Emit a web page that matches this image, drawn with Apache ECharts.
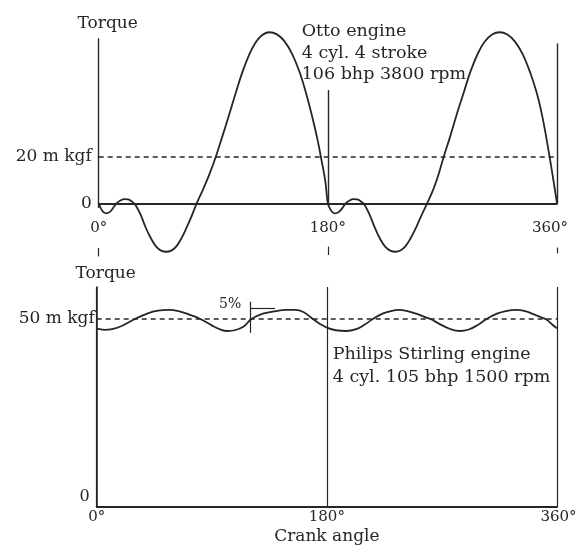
<!DOCTYPE html>
<html>
<head>
<meta charset="utf-8">
<script src="https://cdn.jsdelivr.net/npm/echarts@6/dist/echarts.min.js"></script>
<style>
  html, body { margin: 0; padding: 0; background: #ffffff; }
  #chart { width: 577px; height: 551px; }
</style>
</head>
<body>
<div id="chart"></div>
<script>
// ---- data ----
// Otto engine torque (m kgf) vs crank angle (deg)
const topAngles = [0, 2, 4, 6, 8, 10, 12, 14, 17, 20, 23, 26, 29, 33, 37, 41, 45, 49, 53, 57, 61, 65, 69, 73, 77, 82, 87, 92, 97, 103, 108, 113, 118, 123, 128, 134, 140, 146, 152, 158, 163, 168, 172, 175, 178, 180,
  182, 184, 186, 188, 190, 192, 194, 197, 200, 203, 206, 209, 213, 217, 221, 225, 229, 233, 237, 241, 245, 249, 253, 258, 263, 267, 271, 276, 282, 287, 292, 298, 303, 309, 315, 321, 327, 333, 339, 344, 348, 351, 354, 357, 360];
const topTorque = [0, -2.5, -3.9, -4.3, -4.0, -3.0, -1.5, 0, 1.2, 1.8, 1.7, 0.8, -0.8, -5, -10.5, -15, -18.5, -20.3, -20.8, -20.3, -18.5, -15, -10.5, -5.5, 0, 6, 12.5, 20, 28.5, 39, 48, 56.5, 63.5, 68.8, 72, 73.4, 72.5, 69.5, 64, 56, 47, 36.5, 27, 18.5, 9.5, 0,
  -2.6, -4.0, -4.3, -4.0, -3.0, -1.6, 0, 1.2, 1.8, 1.7, 0.8, -0.8, -5.2, -10.6, -15.2, -18.6, -20.3, -20.8, -20.3, -18.4, -15, -10.8, -5.8, 0, 6.2, 12.5, 20, 28.5, 39.5, 48, 56.5, 64.5, 69.2, 72.4, 73.4, 72.4, 69.4, 64, 56, 47.5, 38.5, 30, 20.5, 10.5, 0];

// Philips Stirling engine torque (m kgf) vs crank angle (deg)
const bottomAngles = [0, 6, 12, 20, 30, 40, 48, 56, 64, 72, 81, 90, 96, 102, 108, 115, 121, 130, 140, 148, 155, 162, 169, 175, 180,
  187, 195, 203, 210, 216, 224, 230, 236, 243, 250, 256, 261, 268, 276, 284, 291, 298, 305, 313, 320, 328, 335, 342, 348, 352, 356, 360];
const bottomTorque = [47.4, 47.1, 47.3, 48.2, 50.0, 51.5, 52.2, 52.4, 52.1, 51.2, 50.0, 48.3, 47.3, 46.8, 47.0, 48.0, 50.0, 51.4, 52.1, 52.4, 52.4, 51.8, 50.0, 48.6, 47.7,
  47.0, 46.8, 47.3, 48.6, 50.0, 51.5, 52.1, 52.4, 52.1, 51.4, 50.6, 50.0, 48.7, 47.4, 46.8, 47.2, 48.4, 50.0, 51.4, 52.1, 52.4, 52.1, 51.2, 50.4, 49.8, 48.6, 47.5];

const crankTicks = [0, 180, 360];
const crankTickLabels = ['0°', '180°', '360°'];
const topRefTorque = 20;        // dashed reference level, top
const bottomRefTorque = 50;     // dashed reference level, bottom
const topYLabels = { 0: '0', 20: '20 m kgf' };
const bottomYLabels = { 0: '0', 50: '50 m kgf' };
const topName = 'Torque';
const bottomName = 'Torque';
const xName = 'Crank angle';
const ottoText = ['Otto engine', '4 cyl. 4 stroke', '106 bhp 3800 rpm'];
const stirlingText = ['Philips Stirling engine', '4 cyl. 105 bhp 1500 rpm'];
const rippleText = '5%';

// ---- build ----
const INK = '#262626';
const FONT = '"DejaVu Serif", "Liberation Serif", serif';
const pairs = (xs, ys) => xs.map((x, i) => [x, ys[i]]);
const seg = (a, b, w) => [{ coord: a, lineStyle: { width: w || 1.4 } }, { coord: b }];
const crankLabel = v => {
  const i = crankTicks.indexOf(v);
  if (i < 0) return '';
  return i === 2 ? '{r|' + crankTickLabels[i] + '}' : crankTickLabels[i];
};

const chart = echarts.init(document.getElementById('chart'), null, { renderer: 'canvas' });

const option = {
  animation: false,
  backgroundColor: '#ffffff',
  textStyle: { fontFamily: FONT, color: INK },
  grid: [
    { left: 98.7, width: 458.3, top: 26.2, height: 233, outerBoundsMode: 'none', containLabel: false },
    { left: 96.7, width: 460.3, top: 287, height: 220, outerBoundsMode: 'none', containLabel: false }
  ],
  xAxis: [
    {
      gridIndex: 0, type: 'value', min: 0, max: 360, interval: 180,
      axisLine: { onZero: true, lineStyle: { color: INK, width: 1.8 } },
      axisTick: { show: false }, splitLine: { show: false },
      axisLabel: {
        margin: -38.7, fontFamily: FONT, fontSize: 15, color: INK,
        formatter: crankLabel,
        rich: { r: { fontFamily: FONT, fontSize: 15, color: INK, padding: [0, 14, 0, 0] } }
      }
    },
    {
      gridIndex: 1, type: 'value', min: 0, max: 360, interval: 180,
      axisLine: { onZero: false, lineStyle: { color: INK, width: 1.8 } },
      axisTick: { show: false },
      splitLine: { show: true, lineStyle: { color: INK, width: 1.2 } },
      name: xName, nameLocation: 'middle', nameGap: 21,
      nameTextStyle: { fontFamily: FONT, fontSize: 17, color: INK },
      axisLabel: {
        margin: 3, fontFamily: FONT, fontSize: 15, color: INK,
        formatter: crankLabel,
        rich: { r: { fontFamily: FONT, fontSize: 15, color: INK, padding: [0, 0, 0, 3] } }
      }
    }
  ],
  yAxis: [
    {
      gridIndex: 0, type: 'value', min: -24, max: 76,
      axisLine: { show: false }, axisTick: { show: false }, splitLine: { show: false },
      name: topName, nameLocation: 'end', nameGap: 2.2,
      nameTextStyle: { fontFamily: FONT, fontSize: 17, color: INK, align: 'center', verticalAlign: 'middle', padding: [0, 0, 0, 18] },
      axisLabel: {
        customValues: [0, 20], margin: 7, fontFamily: FONT, fontSize: 17, color: INK,
        formatter: v => topYLabels[v] || ''
      }
    },
    {
      gridIndex: 1, type: 'value', min: 0, max: 58.5,
      axisLine: { show: true, onZero: false, lineStyle: { color: INK, width: 1.6 } },
      axisTick: { show: false }, splitLine: { show: false },
      name: bottomName, nameLocation: 'end', nameGap: 13.7,
      nameTextStyle: { fontFamily: FONT, fontSize: 17, color: INK, align: 'center', verticalAlign: 'middle', padding: [0, 0, 0, 18] },
      axisLabel: {
        customValues: [0, 50], margin: 2, fontFamily: FONT, fontSize: 17, color: INK,
        formatter: v => v === 0 ? '{z|' + bottomYLabels[0] + '}' : (bottomYLabels[v] || ''),
        rich: { z: { fontFamily: FONT, fontSize: 16, color: INK, padding: [0, 5, 21, 0] } }
      }
    }
  ],
  series: [
    {
      type: 'line', xAxisIndex: 0, yAxisIndex: 0,
      data: pairs(topAngles, topTorque),
      smooth: 0.4, showSymbol: false, symbol: 'none',
      lineStyle: { color: INK, width: 1.8 },
      markLine: {
        silent: true, symbol: 'none', label: { show: false },
        lineStyle: { color: INK, width: 1.4, type: 'solid' },
        data: [
          { yAxis: topRefTorque, lineStyle: { type: [5, 4], width: 1.6, color: INK } },
          seg([0, -2], [0, 70.8], 1.4),
          seg([180, 0], [180, 48.6], 1.4),
          seg([360, 0], [360, 68.6], 1.4),
          seg([0, -19.2], [0, -22.8], 1.2),
          seg([180, -18.6], [180, -22.2], 1.2),
          seg([360, -19], [360, -21.5], 1.2)
        ]
      }
    },
    {
      type: 'line', xAxisIndex: 1, yAxisIndex: 1,
      data: pairs(bottomAngles, bottomTorque),
      smooth: 0.4, showSymbol: false, symbol: 'none',
      lineStyle: { color: INK, width: 1.8 },
      markLine: {
        silent: true, symbol: 'none', label: { show: false },
        lineStyle: { color: INK, width: 1.2, type: 'solid' },
        data: [
          { yAxis: bottomRefTorque, lineStyle: { type: [5, 4], width: 1.6, color: INK } },
          seg([120, 46.3], [120, 54.6], 1.2),
          seg([120, 52.8], [139.4, 52.8], 1.2)
        ]
      }
    }
  ],
  graphic: [
    {
      type: 'text', left: 301.7, top: 20.5, silent: true,
      style: { text: ottoText.join('\n'), font: '17.5px ' + FONT, fill: INK, lineHeight: 21.7 }
    },
    {
      type: 'text', left: 332.7, top: 343, silent: true,
      style: { text: stirlingText.join('\n'), font: '17.5px ' + FONT, fill: INK, lineHeight: 23.3 }
    },
    {
      type: 'text', left: 219, top: 297, silent: true,
      style: { text: rippleText, font: '14px ' + FONT, fill: INK }
    }
  ]
};

chart.setOption(option);
</script>
</body>
</html>
